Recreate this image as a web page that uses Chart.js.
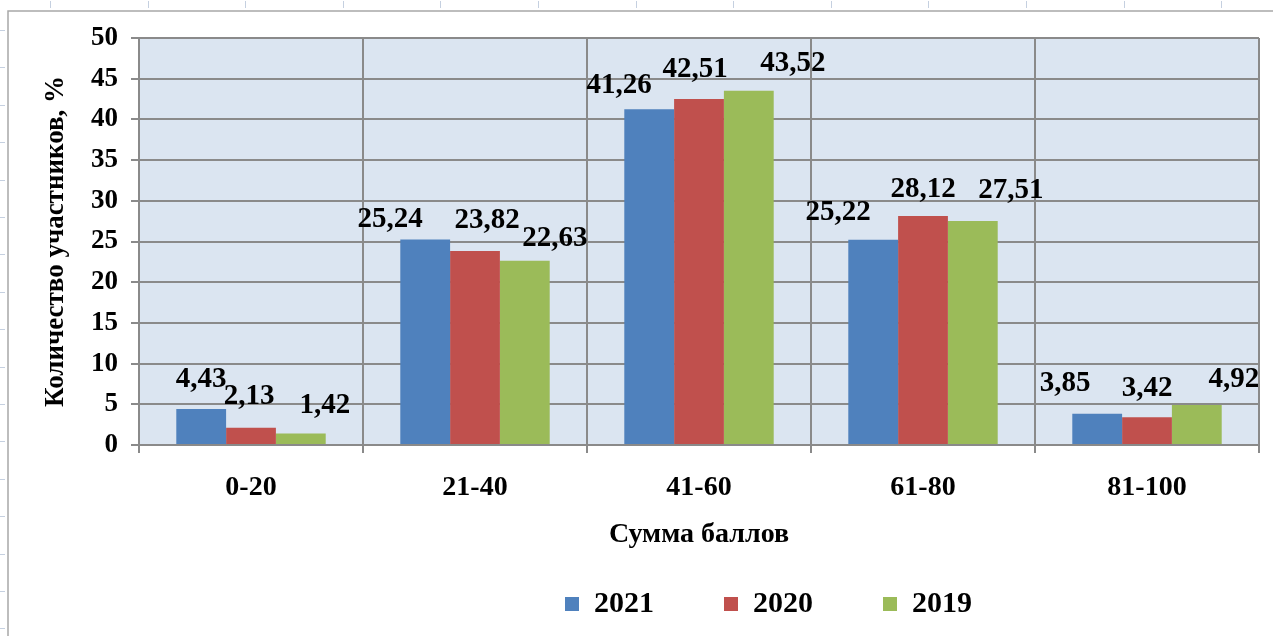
<!DOCTYPE html>
<html>
<head>
<meta charset="utf-8">
<script src="https://cdn.jsdelivr.net/npm/chart.js@4/dist/chart.umd.min.js"></script>
<style>
  body { margin: 0; background: #fff; }
  #wrap { width: 1273px; height: 636px; position: relative; }
</style>
</head>
<body>
<div id="wrap"><canvas id="myChart"></canvas></div>
<script>
// data
const categories = ['0-20', '21-40', '41-60', '61-80', '81-100'];
const years = ['2021', '2020', '2019'];
const values2021 = [4.43, 25.24, 41.26, 25.22, 3.85];
const values2020 = [2.13, 23.82, 42.51, 28.12, 3.42];
const values2019 = [1.42, 22.63, 43.52, 27.51, 4.92];
const yTicks = [0, 5, 10, 15, 20, 25, 30, 35, 40, 45, 50];

const serif = "'Liberation Serif', 'Times New Roman', serif";
const gridColor = '#8a8a8a';

// label nudges (dx, dy from bar top) per category, per year - Excel spreads them out
const labelShift = [
  [[0, -29], [-2, -31], [24, -28]],
  [[-35, -20], [12, -31], [30, -22]],
  [[-30, -24], [-4, -29], [44, -27]],
  [[-35, -27], [0, -27], [38, -31]],
  [[-32, -30], [0, -29], [37, -25]]
];

const pageBits = {
  id: 'pageBits',
  beforeDraw(chart) {
    const c = chart.ctx;
    const a = chart.chartArea;
    c.save();
    c.fillStyle = '#fff';
    c.fillRect(0, 0, chart.width, chart.height);
    // spreadsheet ruler marks
    c.strokeStyle = '#c5d0e0';
    c.lineWidth = 1;
    for (let x = 50; x < chart.width; x += 97.6) {
      c.beginPath(); c.moveTo(Math.round(x) + 0.5, 1); c.lineTo(Math.round(x) + 0.5, 8); c.stroke();
    }
    for (let y = 30; y < chart.height; y += 37.4) {
      c.beginPath(); c.moveTo(0, Math.round(y) + 0.5); c.lineTo(5, Math.round(y) + 0.5); c.stroke();
    }
    // chart frame
    c.strokeStyle = '#a8a8a8';
    c.lineWidth = 1.5;
    c.strokeRect(8, 11, chart.width + 20, chart.height + 20);
    // plot area fill
    c.fillStyle = '#dbe5f1';
    c.fillRect(a.left, a.top, a.right - a.left, a.bottom - a.top);
    c.restore();
  },
  afterLayout(chart) {
    // legend sits right of centre in the original
    chart.legend.left += 139;
    chart.legend.right += 139;
  },
  afterDatasetsDraw(chart) {
    const c = chart.ctx;
    c.save();
    c.font = 'bold 29px ' + serif;
    c.fillStyle = '#000';
    c.textAlign = 'center';
    c.textBaseline = 'middle';
    chart.data.datasets.forEach(function(ds, d) {
      const meta = chart.getDatasetMeta(d);
      meta.data.forEach(function(bar, i) {
        const s = labelShift[i][d];
        const txt = ds.data[i].toFixed(2).replace('.', ',');
        c.fillText(txt, bar.x + s[0], bar.y + s[1]);
      });
    });
    c.restore();
  }
};

const ctx = document.getElementById('myChart').getContext('2d');

const chart = new Chart(ctx, {
  type: 'bar',
  data: {
    labels: categories,
    datasets: [{
      label: years[0],
      backgroundColor: '#4f81bd',
      data: values2021
    },
    {
      label: years[1],
      backgroundColor: '#c0504d',
      data: values2020
    },
    {
      label: years[2],
      backgroundColor: '#9bbb59',
      data: values2019
    }]
  },
  options: {
    responsive: true,
    maintainAspectRatio: false,
    devicePixelRatio: 1,
    animation: false,
    categoryPercentage: 0.667,
    barPercentage: 1,
    layout: { padding: { top: 38, right: 14, bottom: 7, left: 0 } },
    plugins: {
      tooltip: { enabled: false },
      legend: {
        position: 'bottom',
        labels: {
          boxWidth: 14,
          boxHeight: 14,
          padding: 70,
          color: '#000',
          font: { family: serif, size: 30, weight: 'bold' }
        }
      }
    },
    scales: {
      x: {
        grid: { color: gridColor, lineWidth: 2, tickLength: 8, tickColor: gridColor },
        border: { color: gridColor, width: 2 },
        ticks: { color: '#000', padding: 18, font: { family: serif, size: 28, weight: 'bold' } },
        title: {
          display: true,
          text: 'Сумма баллов',
          color: '#000',
          padding: { top: 0, bottom: -33 },
          font: { family: serif, size: 28, weight: 'bold' }
        },
        afterFit(scale) { scale.height = 74; }
      },
      y: {
        min: 0,
        max: 50,
        afterBuildTicks(scale) { scale.ticks = yTicks.map(v => ({ value: v })); },
        grid: { color: gridColor, lineWidth: 2, tickLength: 8, tickColor: gridColor },
        border: { color: gridColor, width: 2 },
        ticks: { color: '#000', padding: 13, font: { family: serif, size: 27, weight: 'bold' } },
        title: {
          display: true,
          text: 'Количество участников, %',
          color: '#000',
          padding: { top: 40, bottom: 0 },
          font: { family: serif, size: 27, weight: 'bold' }
        },
        afterFit(scale) { scale.width = 139; }
      }
    }
  },
  plugins: [pageBits]
});
</script>
</body>
</html>
